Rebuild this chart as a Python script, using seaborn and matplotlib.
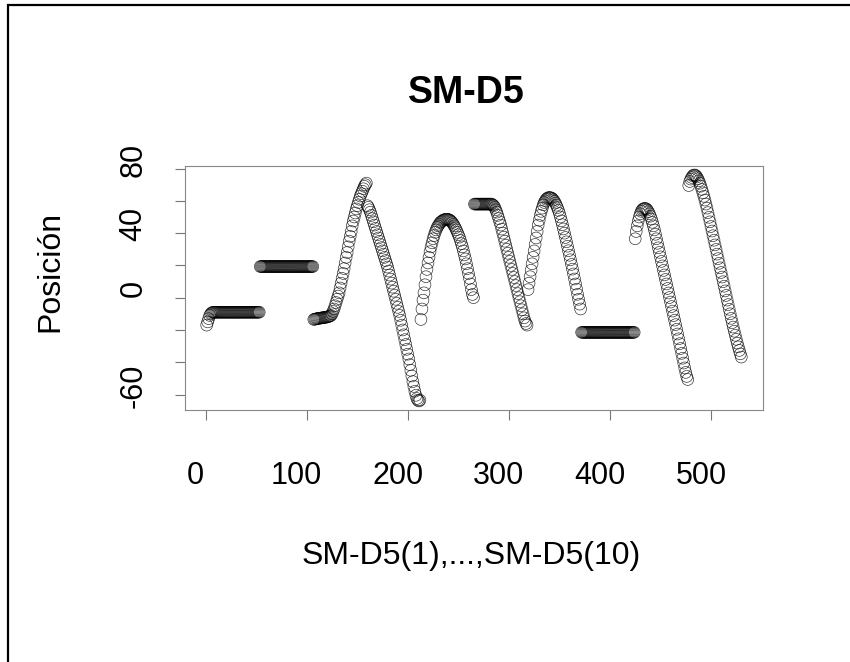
import numpy as np
import pandas as pd
import seaborn as sns
import matplotlib.pyplot as plt
from matplotlib.patches import Rectangle
from matplotlib.transforms import ScaledTranslation

sns.set_theme(style='white')
plt.rcParams['font.family'] = ['Liberation Sans', 'DejaVu Sans']
plt.rcParams['text.color'] = 'black'
plt.rcParams['axes.labelcolor'] = 'black'

# positions, one list per run SM-D5(1) .. SM-D5(10)
sm1 = [-17, -15, -13, -11, -10, -9.5, -9, -9, -9, -9,
       -9, -9, -9, -9, -9, -9, -9, -9, -9, -9,
       -9, -9, -9, -9, -9, -9, -9, -9, -9, -9,
       -9, -9, -9, -9, -9, -9, -9, -9, -9, -9,
       -9, -9, -9, -9, -9, -9, -9, -9, -9, -9,
       -9, -9, -9]
sm2 = [19.3, 19.3, 19.3, 19.3, 19.3, 19.3, 19.3, 19.3, 19.3, 19.3,
       19.3, 19.3, 19.3, 19.3, 19.3, 19.3, 19.3, 19.3, 19.3, 19.3,
       19.3, 19.3, 19.3, 19.3, 19.3, 19.3, 19.3, 19.3, 19.3, 19.3,
       19.3, 19.3, 19.3, 19.3, 19.3, 19.3, 19.3, 19.3, 19.3, 19.3,
       19.3, 19.3, 19.3, 19.3, 19.3, 19.3, 19.3, 19.3, 19.3, 19.3,
       19.3, 19.3, 19.3]
sm3 = [-13.5, -13.3, -13.2, -13, -12.9, -12.8, -12.7, -12.6, -12.5, -12.4,
       -12.3, -12.2, -12.1, -12, -11.8, -11.6, -11.3, -11, -10, -8.5,
       -7, -5, -3, -1, 1, 3, 6, 9, 12, 15,
       18, 21.5, 25, 28, 31.5, 35, 38, 41, 44.5, 47.5,
       50, 52.5, 55, 57, 59, 61, 63, 64.5, 66, 67.5,
       69, 70, 71]
sm4 = [57, 56, 54.5, 53, 51, 49, 47, 45, 43, 41,
       39, 37, 35, 33, 31, 29, 27, 25, 23, 21,
       19, 16.5, 14, 11.5, 9, 6.5, 4, 1.5, -1, -3.5,
       -6, -8.5, -11, -14, -17, -20, -23, -26, -29, -32,
       -35, -38, -41.5, -45, -48.5, -52, -55, -58, -60.5, -62.5,
       -63.5, -64, -63.5]
sm5 = [-13.5, -7, -1.5, 3, 8, 13, 17.5, 21.5, 25, 28.5,
       31.5, 34, 36.5, 38.5, 40.5, 42, 43.5, 44.5, 45.5, 46.5,
       47, 47.5, 48, 48.3, 48.5, 48.6, 48.6, 48.5, 48.2, 47.8,
       47.2, 46.5, 45.5, 44.5, 43.3, 42, 40.5, 39, 37.5, 35.5,
       33.5, 31.5, 29, 26.5, 24, 21, 18, 15, 12, 8.5,
       5, 2, 0]
sm6 = [58, 58, 58, 58, 58, 58, 58, 58, 58, 58,
       58, 58, 58, 58, 58, 58, 58, 58, 57.5, 57,
       56, 54.5, 53, 51, 49, 47, 45, 42.5, 40, 37.5,
       35, 32.5, 30, 27.5, 25, 22.5, 20, 17.5, 15, 12.5,
       10, 7.5, 5, 2.5, 0, -2.5, -5, -7.5, -10, -12.5,
       -14.5, -16, -17]
sm7 = [5, 9, 13, 17, 21, 25, 29, 33, 37, 41,
       45, 48, 51, 53.5, 55.5, 57.5, 59, 60, 61, 61.5,
       62, 62, 62, 61.8, 61.3, 60.6, 59.7, 58.6, 57.3, 55.8,
       54.1, 52.2, 50, 47.6, 45.2, 42.6, 40, 37.3, 34.6, 31.9,
       29.1, 26.3, 23.5, 20.6, 17.7, 14.7, 11.6, 8.5, 5.3, 2.1,
       -1, -4, -7]
sm8 = [-21.5, -21.5, -21.5, -21.5, -21.5, -21.5, -21.5, -21.5, -21.5, -21.5,
       -21.5, -21.5, -21.5, -21.5, -21.5, -21.5, -21.5, -21.5, -21.5, -21.5,
       -21.5, -21.5, -21.5, -21.5, -21.5, -21.5, -21.5, -21.5, -21.5, -21.5,
       -21.5, -21.5, -21.5, -21.5, -21.5, -21.5, -21.5, -21.5, -21.5, -21.5,
       -21.5, -21.5, -21.5, -21.5, -21.5, -21.5, -21.5, -21.5, -21.5, -21.5,
       -21.5, -21.5, -21.5]
sm9 = [36.5, 41, 44.5, 47.5, 50, 52, 53.5, 54.5, 55, 55.3,
       55.3, 55, 54.3, 53.3, 52, 50.5, 48.7, 46.7, 44.5, 42,
       39.3, 36.5, 33.7, 30.9, 28.1, 25.3, 22.5, 19.7, 16.9, 14.1,
       11.3, 8.5, 5.7, 2.9, 0.1, -2.7, -5.5, -8.3, -11.1, -13.9,
       -16.7, -19.6, -22.5, -25.5, -28.5, -31.5, -34.5, -37.5, -40.5, -43.5,
       -46.3, -48.8, -50.7]
sm10 = [69.5, 72, 73.5, 74.5, 75.5, 76, 76, 75.6, 74.8, 73.7,
        72.4, 70.9, 69.1, 67.1, 65, 62.8, 60.5, 58, 55.5, 52.7,
        49.8, 47, 44.1, 41.3, 38.4, 35.6, 32.7, 29.9, 27, 24.2,
        21.3, 18.5, 15.6, 12.8, 9.9, 7.1, 4.2, 1.4, -1.5, -4.3,
        -7.2, -10, -12.8, -15.5, -18.2, -20.8, -23.3, -25.8, -28.2, -30.5,
        -32.7, -34.8, -36.8]

x_ticks = [0, 100, 200, 300, 400, 500]
y_ticks = [-60, -40, -20, 0, 20, 40, 60, 80]
y_ticklabels = ['-60', '', '', '0', '', '40', '', '80']

pos = np.concatenate([sm1, sm2, sm3, sm4, sm5, sm6, sm7, sm8, sm9, sm10])
df = pd.DataFrame({'idx': np.arange(1, len(pos) + 1), 'pos': pos})

fig = plt.figure(figsize=(8.5, 6.62), dpi=100)
ax = fig.add_axes([185.3 / 850, 1 - 410 / 662, 577.4 / 850, 244 / 662])

sns.scatterplot(data=df, x='idx', y='pos', ax=ax, s=72,
                facecolors='none', edgecolor='black', linewidth=0.45,
                alpha=0.85, legend=False)
ax.margins(x=0.04, y=0.04)

ax.set_xticks(x_ticks)
ax.set_xticklabels([str(t) for t in x_ticks])
ax.set_yticks(y_ticks)
ax.set_yticklabels(y_ticklabels)
ax.tick_params(bottom=True, left=True, direction='out', length=7, width=0.8,
               color='#777777', labelsize=22, labelcolor='black')
ax.tick_params(axis='x', pad=30)
ax.tick_params(axis='y', pad=19.5)
plt.setp(ax.get_yticklabels(), rotation=90, va='center')

for s in ax.spines.values():
    s.set_visible(True)
    s.set_color('#888888')
    s.set_linewidth(0.8)

# R draws its text a little off the tick centre
for lab in ax.get_xticklabels():
    lab.set_transform(lab.get_transform() + ScaledTranslation(-0.10, 0, fig.dpi_scale_trans))
for lab in ax.get_yticklabels():
    lab.set_transform(lab.get_transform() + ScaledTranslation(0, 0.09, fig.dpi_scale_trans))

ax.set_xlabel('SM-D5(1),...,SM-D5(10)', fontsize=23)
ax.xaxis.set_label_coords(0.495, -0.598)
ax.xaxis.label.set_va('center')
ax.set_ylabel('Posición', fontsize=23)
ax.yaxis.set_label_coords(-0.2335, 0.566)
ax.yaxis.label.set_va('center')

ax.text(0.486, 1.30, 'SM-D5', transform=ax.transAxes, ha='center', va='center',
        fontsize=27, fontweight='bold', color='black')

fig.patches.append(Rectangle((8 / 850, -0.5), 2, 1.5 - 5 / 662,
                             transform=fig.transFigure, fill=False,
                             edgecolor='black', linewidth=1.6))

fig.savefig('out.png', dpi=100)
